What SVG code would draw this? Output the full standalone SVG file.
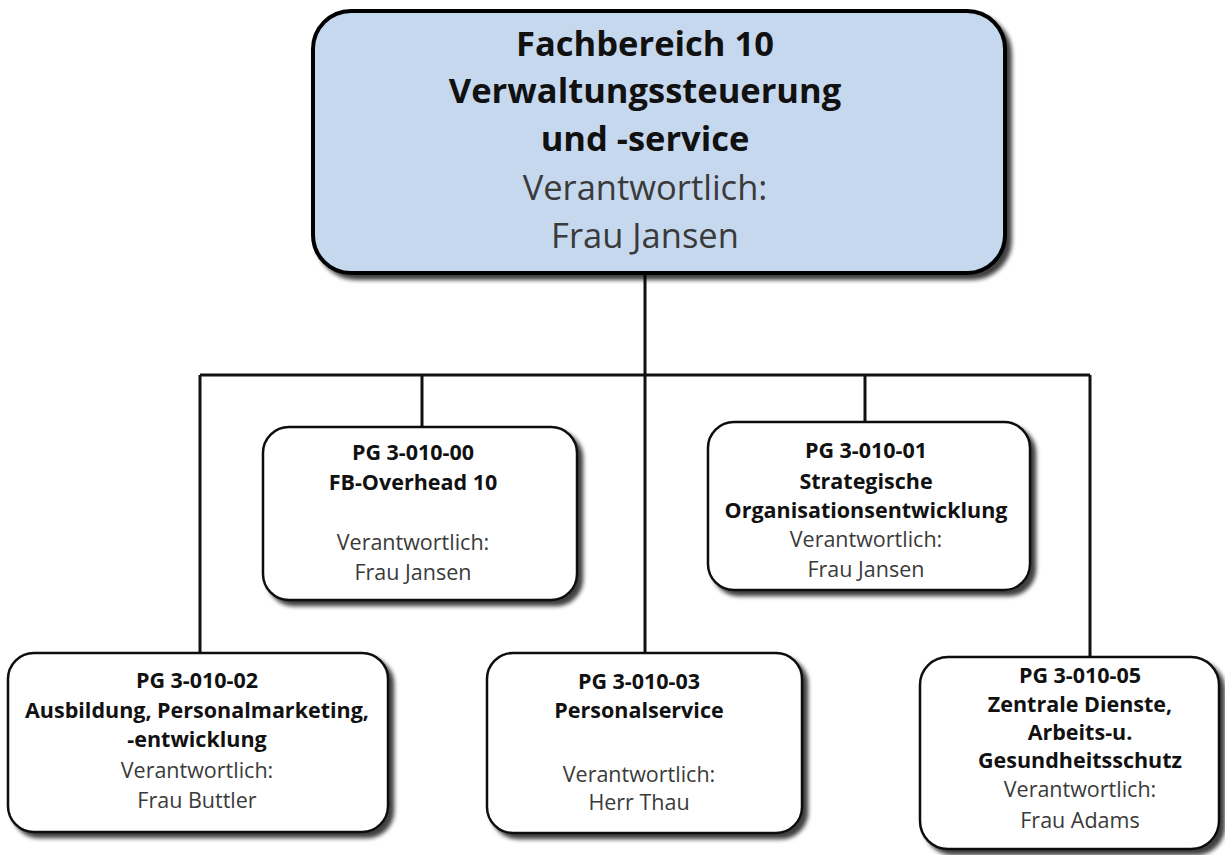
<svg xmlns="http://www.w3.org/2000/svg" width="1225" height="855" viewBox="0 0 1225 855">
<defs>
<filter id="sh" x="-10%" y="-10%" width="130%" height="130%">
<feDropShadow dx="5" dy="5" stdDeviation="2" flood-color="#000" flood-opacity="0.75"/>
</filter>
<style>
.box{fill:#fff;stroke:#111;stroke-width:2.5;filter:url(#sh)}
.main{fill:#c6d8ee;stroke:#000;stroke-width:4;filter:url(#sh)}
.b{font-family:"Open Sans","Noto Sans",sans-serif;font-weight:bold;fill:#111;text-anchor:middle;font-size:21.5px}
.n{font-family:"Open Sans","Noto Sans",sans-serif;fill:#3a3a3a;text-anchor:middle;font-size:21.5px}
.bt{font-size:34.5px}
.c{fill:none;stroke:#111;stroke-width:3}
</style>
</defs>
<rect width="1225" height="855" fill="#fff"/>
<g id="connectors">
<path class="c" d="M645 273 V655"/>
<path class="c" d="M200 375 H1090"/>
<path class="c" d="M200 375 V653"/>
<path class="c" d="M422 375 V427"/>
<path class="c" d="M865 375 V422"/>
<path class="c" d="M1090 375 V657"/>
</g>
<g id="fb10">
<rect class="main" x="313" y="11" width="692" height="262" rx="38"/>
<text class="b bt" x="645" y="56">Fachbereich 10</text>
<text class="b bt" x="645" y="103">Verwaltungssteuerung</text>
<text class="b bt" x="645" y="151">und -service</text>
<text class="n bt" x="645" y="200">Verantwortlich:</text>
<text class="n bt" x="645" y="248">Frau Jansen</text>
</g>
<g id="pg00">
<rect class="box" x="263" y="427" width="314" height="173" rx="26"/>
<text class="b" x="413" y="460">PG 3-010-00</text>
<text class="b" x="413" y="490">FB-Overhead 10</text>
<text class="n" x="413" y="550">Verantwortlich:</text>
<text class="n" x="413" y="580">Frau Jansen</text>
</g>
<g id="pg01">
<rect class="box" x="708" y="422" width="322" height="168" rx="26"/>
<text class="b" x="866" y="458">PG 3-010-01</text>
<text class="b" x="866" y="489">Strategische</text>
<text class="b" x="866" y="518">Organisationsentwicklung</text>
<text class="n" x="866" y="547">Verantwortlich:</text>
<text class="n" x="866" y="577">Frau Jansen</text>
</g>
<g id="pg02">
<rect class="box" x="8" y="653" width="380" height="179" rx="26"/>
<text class="b" x="197" y="688">PG 3-010-02</text>
<text class="b" x="197" y="718">Ausbildung, Personalmarketing,</text>
<text class="b" x="197" y="747">-entwicklung</text>
<text class="n" x="197" y="778">Verantwortlich:</text>
<text class="n" x="197" y="808">Frau Buttler</text>
</g>
<g id="pg03">
<rect class="box" x="487" y="653" width="315" height="180" rx="26"/>
<text class="b" x="639" y="689">PG 3-010-03</text>
<text class="b" x="639" y="718">Personalservice</text>
<text class="n" x="639" y="782">Verantwortlich:</text>
<text class="n" x="639" y="810">Herr Thau</text>
</g>
<g id="pg05">
<rect class="box" x="920" y="657" width="299" height="192" rx="28"/>
<text class="b" x="1080" y="683">PG 3-010-05</text>
<text class="b" x="1080" y="712">Zentrale Dienste,</text>
<text class="b" x="1080" y="740">Arbeits-u.</text>
<text class="b" x="1080" y="768">Gesundheitsschutz</text>
<text class="n" x="1080" y="797">Verantwortlich:</text>
<text class="n" x="1080" y="828">Frau Adams</text>
</g>
</svg>
